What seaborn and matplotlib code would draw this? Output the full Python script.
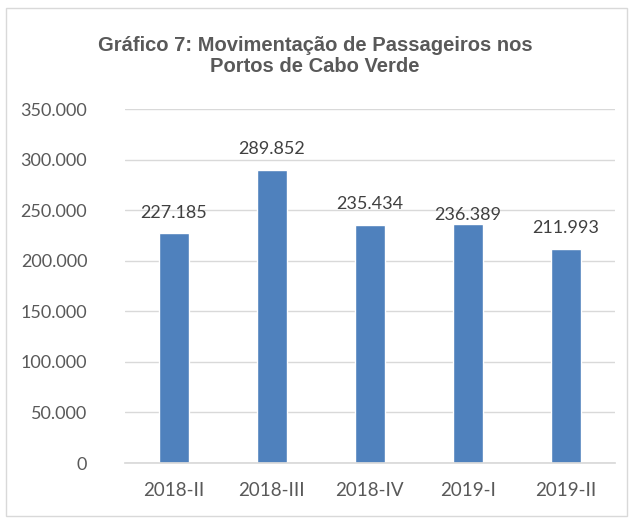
import matplotlib
matplotlib.use("Agg")
import matplotlib.pyplot as plt
import seaborn as sns
import pandas as pd
from matplotlib.ticker import FuncFormatter, MultipleLocator

categories = ["2018-II", "2018-III", "2018-IV", "2019-I", "2019-II"]
values = [227185, 289852, 235434, 236389, 211993]
title = "Gráfico 7: Movimentação de Passageiros nos\nPortos de Cabo Verde"

sns.set_theme(style="white")
plt.rcParams['font.family'] = ['Lato', 'DejaVu Sans']

df = pd.DataFrame({"cat": categories, "val": values})

fig = plt.figure(figsize=(6.3, 5.2), dpi=100)
ax = fig.add_axes([0.198, 0.1096, 0.778, 0.6804])

sns.barplot(data=df, x="cat", y="val", color="#4F81BD", saturation=1, width=0.31, ax=ax)

def fmt(v):
    return f"{int(v):,}".replace(",", ".")

ax.set_ylim(0, 350000)
ax.set_xlim(-0.5, 4.5)
ax.yaxis.set_major_locator(MultipleLocator(50000))
ax.yaxis.set_major_formatter(FuncFormatter(lambda v, p: fmt(v)))
ax.grid(axis="y", color="#d9d9d9", linewidth=1)
ax.set_axisbelow(True)
for s in ["top", "right", "left"]:
    ax.spines[s].set_visible(False)
ax.spines["bottom"].set_color("#d9d9d9")
ax.set_xlabel("")
ax.set_ylabel("")
ax.tick_params(axis="both", length=0, labelsize=13, labelcolor="#595959")
ax.tick_params(axis="y", pad=27)
ax.tick_params(axis="x", pad=14)
for lab in ax.get_xticklabels():
    lab.set_fontsize(13.5)

label_offsets = [15, 15, 15, 6.5, 15]
for i, v in enumerate(values):
    ax.annotate(fmt(v), (i, v), xytext=(0, label_offsets[i]), textcoords="offset points",
                ha="center", va="center", fontsize=13, color="#404040")

fig.text(0.5, 0.892, title, ha="center", va="center", fontsize=14.5,
         fontweight="bold", color="#595959", family=["Liberation Sans", "DejaVu Sans"],
         linespacing=1.1)

border = plt.Rectangle((0.01, 0.008), 0.985, 0.977, transform=fig.transFigure,
                       fill=False, edgecolor="#d9d9d9", linewidth=1)
fig.patches.append(border)

fig.savefig("out.png", dpi=100)
